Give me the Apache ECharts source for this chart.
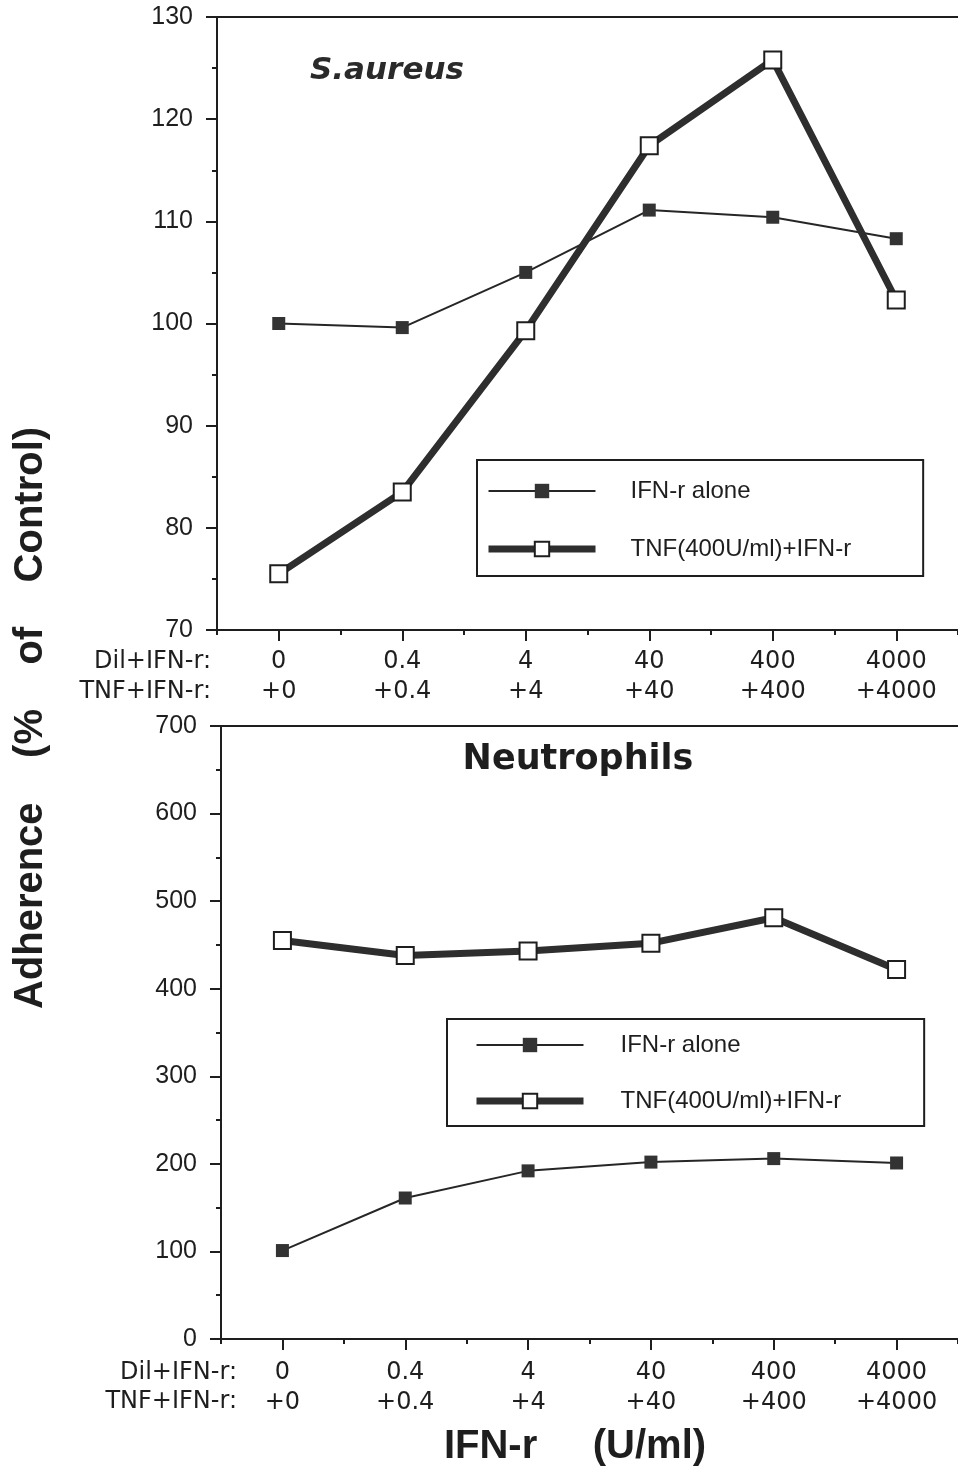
<!DOCTYPE html>
<html>
<head>
<meta charset="utf-8">
<title>Adherence (% of Control)</title>
<script src="https://cdn.jsdelivr.net/npm/echarts@6/dist/echarts.min.js"></script>
<style>
  html, body { margin: 0; padding: 0; background: #fff; }
  #chart { width: 958px; height: 1471px; }
</style>
</head>
<body>
<div id="chart"></div>
<script>
// Dose categories (U/ml): first row = IFN-r dose, second row = TNF+IFN-r combo
const doseLabels = ['0', '0.4', '4', '40', '400', '4000'];
const comboLabels = ['+0', '+0.4', '+4', '+40', '+400', '+4000'];
const rowLabels = ['Dil+IFN-r:', 'TNF+IFN-r:'];
const seriesNames = ['IFN-r alone', 'TNF(400U/ml)+IFN-r'];

// S. aureus adherence (% of control)
const aureusIfnAlone = [100, 99.6, 105, 111.1, 110.4, 108.3];
const aureusTnfIfn = [75.5, 83.5, 99.3, 117.4, 125.8, 102.3];

// Neutrophil adherence (% of control)
const neutIfnAlone = [101, 161, 192, 202, 206, 201];
const neutTnfIfn = [455, 438, 443, 452, 481, 422];

// Y-axis ranges
const aureusAxis = { min: 70, max: 130, interval: 10 };
const neutAxis = { min: 0, max: 700, interval: 100 };

const INK = '#1e1e1e';
const SANS = '"Liberation Sans", Arial, Helvetica, sans-serif';
const WIDE = '"DejaVu Sans", Verdana, sans-serif';
const THIN_W = 2;
const THICK_W = 7;

const chart = echarts.init(document.getElementById('chart'), null, { renderer: 'canvas' });

function centerAxis(gridIndex, margin) {
  return {
    type: 'category', gridIndex: gridIndex, data: doseLabels, boundaryGap: true, position: 'bottom',
    axisLine: { show: true, lineStyle: { color: INK, width: 2 } },
    axisTick: { show: true, alignWithLabel: true, inside: false, length: 11, lineStyle: { color: INK, width: 2 } },
    axisLabel: {
      show: true, interval: 0, margin: margin, color: INK,
      fontFamily: WIDE, fontSize: 24, lineHeight: 30,
      formatter: function (v, i) { return v + '\n' + comboLabels[i]; }
    },
    splitLine: { show: false }
  };
}
function boundaryAxis(gridIndex) {
  return {
    type: 'category', gridIndex: gridIndex, data: doseLabels, boundaryGap: true, position: 'bottom',
    axisLine: { show: false },
    axisTick: { show: true, inside: false, length: 5, lineStyle: { color: INK, width: 2 } },
    axisLabel: { show: false },
    splitLine: { show: false }
  };
}
// Frame line along the top of each panel
function frameAxis(gridIndex) {
  return {
    type: 'category', gridIndex: gridIndex, data: doseLabels, boundaryGap: true, position: 'top',
    axisLine: { show: true, lineStyle: { color: INK, width: 2 } },
    axisTick: { show: false },
    axisLabel: { show: false },
    splitLine: { show: false }
  };
}
function valueAxis(gridIndex, range) {
  return {
    type: 'value', gridIndex: gridIndex, min: range.min, max: range.max, interval: range.interval,
    axisLine: { show: true, lineStyle: { color: INK, width: 2 } },
    axisTick: { show: true, length: 11, lineStyle: { color: INK, width: 2 } },
    minorTick: { show: true, splitNumber: 2, length: 5, lineStyle: { color: INK, width: 2 } },
    axisLabel: { margin: 24, color: INK, fontFamily: SANS, fontSize: 25 },
    splitLine: { show: false },
    minorSplitLine: { show: false }
  };
}
function thinSeries(xi, yi, data) {
  return {
    name: seriesNames[0], type: 'line', xAxisIndex: xi, yAxisIndex: yi, data: data,
    symbol: 'rect', symbolSize: 13, showAllSymbol: true, z: 3,
    lineStyle: { color: '#262626', width: THIN_W },
    itemStyle: { color: '#333', borderWidth: 0 },
    emphasis: { disabled: true }
  };
}
function thickSeries(xi, yi, data) {
  return {
    name: seriesNames[1], type: 'line', xAxisIndex: xi, yAxisIndex: yi, data: data,
    symbol: 'rect', symbolSize: 17, showAllSymbol: true, z: 4,
    lineStyle: { color: '#2e2e2e', width: THICK_W },
    itemStyle: { color: '#fff', borderColor: INK, borderWidth: 2 },
    emphasis: { disabled: true }
  };
}
function legendBox(left, top, padding, gap, textPad) {
  return {
    orient: 'vertical', left: left, top: top, padding: padding, itemGap: gap,
    itemWidth: 107, itemHeight: 18,
    borderColor: INK, borderWidth: 2, backgroundColor: '#fff',
    selectedMode: false,
    data: [
      { name: seriesNames[0], lineStyle: { width: THIN_W, color: '#262626' } },
      { name: seriesNames[1], lineStyle: { width: THICK_W, color: '#2e2e2e' } }
    ],
    formatter: '{t|{name}}',
    textStyle: {
      color: INK, fontFamily: SANS, fontSize: 24, lineHeight: 20,
      rich: { t: { fontFamily: SANS, fontSize: 24, color: INK, padding: [0, 0, 0, textPad] } }
    }
  };
}

const option = {
  animation: false,
  backgroundColor: '#fff',
  grid: [
    { left: 217, top: 17, width: 743, height: 613, show: false },
    { left: 221, top: 726, width: 743, height: 613, show: false }
  ],
  xAxis: [centerAxis(0, 17), boundaryAxis(0), frameAxis(0), centerAxis(1, 19), boundaryAxis(1), frameAxis(1)],
  yAxis: [valueAxis(0, aureusAxis), valueAxis(1, neutAxis)],
  legend: [
    legendBox(477, 460, [19, 72, 15, 8], 34, 30),
    legendBox(447, 1019, [14, 83, 13, 26], 32, 32)
  ],
  series: [
    thinSeries(0, 0, aureusIfnAlone),
    thickSeries(0, 0, aureusTnfIfn),
    thinSeries(3, 1, neutIfnAlone),
    thickSeries(3, 1, neutTnfIfn)
  ],
  graphic: [
    { type: 'text', left: 310, top: 55, style: { text: 'S.aureus', fill: '#2a2a2a', font: 'italic bold 31px ' + WIDE } },
    { type: 'text', x: 578, y: 760, style: { text: 'Neutrophils', fill: INK, font: 'bold 35px ' + WIDE, textAlign: 'center', textVerticalAlign: 'middle' } },
    { type: 'text', x: 211, y: 662, style: { text: rowLabels[0], fill: INK, font: '24px ' + WIDE, textAlign: 'right', textVerticalAlign: 'middle' } },
    { type: 'text', x: 211, y: 692, style: { text: rowLabels[1], fill: INK, font: '24px ' + WIDE, textAlign: 'right', textVerticalAlign: 'middle' } },
    { type: 'text', x: 237, y: 1373, style: { text: rowLabels[0], fill: INK, font: '24px ' + WIDE, textAlign: 'right', textVerticalAlign: 'middle' } },
    { type: 'text', x: 237, y: 1402, style: { text: rowLabels[1], fill: INK, font: '24px ' + WIDE, textAlign: 'right', textVerticalAlign: 'middle' } },
    { type: 'text', x: 31, y: 718, rotation: Math.PI / 2, style: { text: 'Adherence    (%    of    Control)', fill: INK, font: 'bold 40px ' + SANS, textAlign: 'center', textVerticalAlign: 'middle' } },
    { type: 'text', x: 575, y: 1447, style: { text: 'IFN-r     (U/ml)', fill: INK, font: 'bold 40px ' + SANS, textAlign: 'center', textVerticalAlign: 'middle' } }
  ]
};
chart.setOption(option);
</script>
</body>
</html>
